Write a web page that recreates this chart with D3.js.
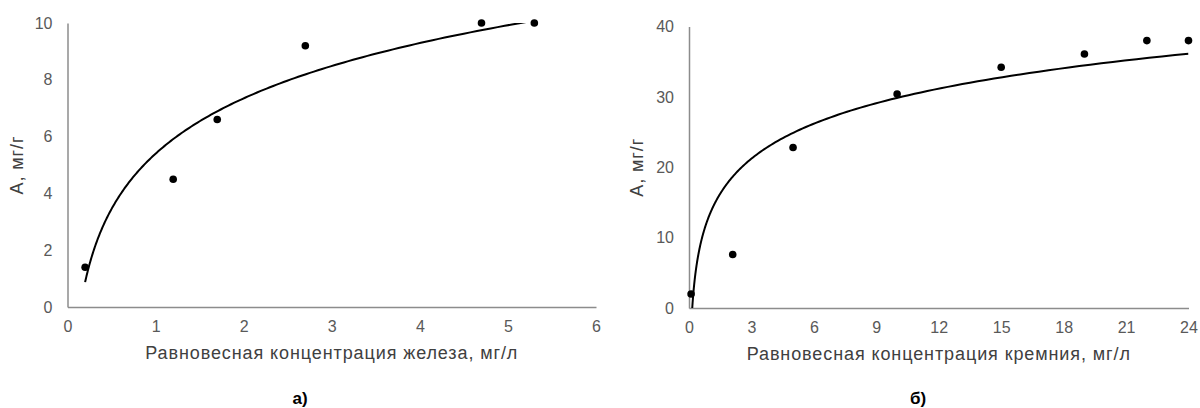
<!DOCTYPE html>
<html lang="ru">
<head>
<meta charset="UTF-8">
<title>Изотермы адсорбции</title>
<script src="https://d3js.org/d3.v7.min.js"></script>
<style>
  body { margin: 0; background: #fff; font-family: "Liberation Sans", Arial, sans-serif; }
  svg { display: block; }
  .axis path { stroke: #8c8c8c; stroke-width: 1.5; }
  .axis line { display: none; }
  .axis text { font-size: 16px; fill: #595959; font-family: "Liberation Sans", Arial, sans-serif; }
  .axis-title { font-size: 18px; fill: #404040; letter-spacing: 0.9px; }
  .panel-label { font-size: 17px; font-weight: bold; fill: #000; }
  .trend { fill: none; stroke: #000; stroke-width: 2; }
</style>
</head>
<body>
<svg id="chart" width="1200" height="408"></svg>
<script>
// а) железо
var ironX = [0.2, 1.2, 1.7, 2.7, 4.7, 5.3];
var ironY = [1.4, 4.5, 6.6, 9.2, 10, 10];
var ironXTicks = [0, 1, 2, 3, 4, 5, 6];
var ironYTicks = [0, 2, 4, 6, 8, 10];

// б) кремний
var siX = [0.1, 2.1, 5, 10, 15, 19, 22, 24];
var siY = [2, 7.6, 22.8, 30.4, 34.2, 36.1, 38, 38];
var siXTicks = [0, 3, 6, 9, 12, 15, 18, 21, 24];
var siYTicks = [0, 10, 20, 30, 40];

var svg = d3.select("#chart");

// логарифмическая линия тренда (МНК по ln x), как в Excel
function logFit(xs, ys) {
  var lx = xs.map(Math.log);
  var mx = d3.mean(lx), my = d3.mean(ys);
  var sxy = d3.sum(lx, function(v, i) { return (v - mx) * (ys[i] - my); });
  var sxx = d3.sum(lx, function(v) { return (v - mx) * (v - mx); });
  var a = sxy / sxx;
  return { a: a, b: my - a * mx };
}

function panel(cfg) {
  var x = d3.scaleLinear().domain(cfg.xDomain).range([cfg.left, cfg.right]);
  var y = d3.scaleLinear().domain(cfg.yDomain).range([cfg.bottom, cfg.top]);
  var g = svg.append("g");

  g.append("clipPath").attr("id", cfg.id + "-clip")
    .append("rect")
    .attr("x", cfg.left).attr("y", cfg.top)
    .attr("width", cfg.right - cfg.left).attr("height", cfg.bottom - cfg.top);

  g.append("g").attr("class", "axis")
    .attr("transform", "translate(0," + cfg.bottom + ")")
    .call(d3.axisBottom(x).tickValues(cfg.xTicks).tickSize(0).tickSizeOuter(0).tickPadding(14).tickFormat(d3.format("d")));

  g.append("g").attr("class", "axis")
    .attr("transform", "translate(" + cfg.left + ",0)")
    .call(d3.axisLeft(y).tickValues(cfg.yTicks).tickSize(0).tickSizeOuter(0).tickPadding(15).tickFormat(d3.format("d")));

  // линия тренда
  var fit = logFit(cfg.xs, cfg.ys);
  var x0 = d3.min(cfg.xs), x1 = d3.max(cfg.xs);
  var samples = d3.range(0, 201).map(function(i) {
    var t = x0 * Math.pow(x1 / x0, i / 200);
    return [t, fit.a * Math.log(t) + fit.b];
  });
  g.append("path").attr("class", "trend")
    .attr("clip-path", "url(#" + cfg.id + "-clip)")
    .attr("d", d3.line().x(function(d) { return x(d[0]); }).y(function(d) { return y(d[1]); })(samples));

  g.selectAll("circle.pt")
    .data(cfg.xs.map(function(v, i) { return [v, cfg.ys[i]]; }))
    .enter().append("circle")
    .attr("class", "pt")
    .attr("cx", function(d) { return x(d[0]); })
    .attr("cy", function(d) { return y(d[1]); })
    .attr("r", 3.8)
    .attr("fill", "#000");

  g.append("text").attr("class", "axis-title")
    .attr("x", (cfg.left + cfg.right) / 2).attr("y", cfg.bottom + 52)
    .attr("text-anchor", "middle")
    .text(cfg.xTitle);

  g.append("text").attr("class", "axis-title")
    .attr("transform", "translate(" + cfg.yTitleX + "," + (cfg.top + cfg.bottom) / 2 + ") rotate(-90)")
    .attr("text-anchor", "middle")
    .text("А, мг/г");

  g.append("text").attr("class", "panel-label")
    .attr("x", cfg.labelX).attr("y", 404)
    .attr("text-anchor", "middle")
    .text(cfg.label);
}

panel({
  id: "fe", xs: ironX, ys: ironY,
  xDomain: [0, 6], yDomain: [0, 10], xTicks: ironXTicks, yTicks: ironYTicks,
  left: 67.5, right: 596, top: 23, bottom: 307,
  xTitle: "Равновесная концентрация железа, мг/л", yTitleX: 23,
  label: "а)", labelX: 300
});

panel({
  id: "si", xs: siX, ys: siY,
  xDomain: [0, 24], yDomain: [0, 40], xTicks: siXTicks, yTicks: siYTicks,
  left: 689, right: 1188.5, top: 26.5, bottom: 308,
  xTitle: "Равновесная концентрация кремния, мг/л", yTitleX: 643,
  label: "б)", labelX: 918
});
</script>
</body>
</html>
